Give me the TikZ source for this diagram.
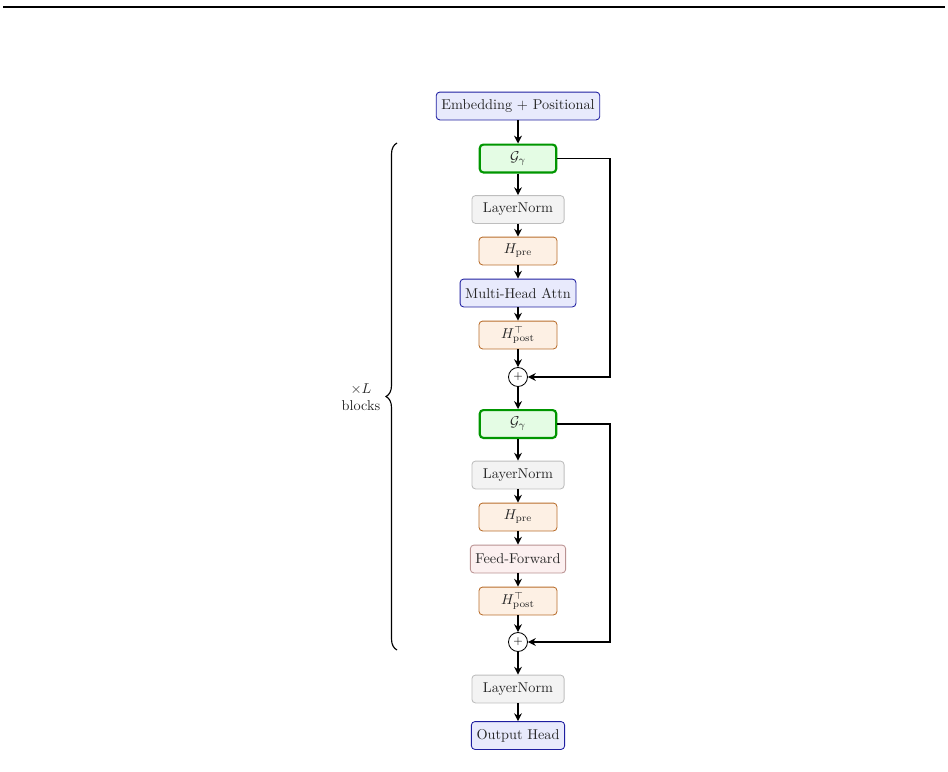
\documentclass[tikz,border=0pt]{standalone}
\usetikzlibrary{arrows.meta,decorations.pathreplacing}
\definecolor{embfill}{RGB}{232,234,252}
\definecolor{embdraw}{RGB}{30,30,160}
\definecolor{gfill}{RGB}{228,252,228}
\definecolor{gdraw}{RGB}{0,150,0}
\definecolor{lnfill}{RGB}{243,243,243}
\definecolor{lndraw}{RGB}{190,190,190}
\definecolor{hfill}{RGB}{253,240,228}
\definecolor{hdraw}{RGB}{185,110,45}
\definecolor{fffill}{RGB}{252,240,240}
\definecolor{ffdraw}{RGB}{185,145,145}
\begin{document}
\begin{tikzpicture}[x=0.7pt,y=-0.7pt,
  base/.style={rectangle, rounded corners=2.5pt, line width=0.6pt, minimum height=19.5pt, inner xsep=3.6pt, inner ysep=2pt, text=black!85},
  embbox/.style={base, fill=embfill, draw=embdraw},
  gbox/.style={base, fill=gfill, draw=gdraw, line width=1.5pt, minimum width=53.5pt, minimum height=19.5pt},
  lnbox/.style={base, fill=lnfill, draw=lndraw, minimum width=64.5pt},
  hbox/.style={base, fill=hfill, draw=hdraw, minimum width=54.6pt},
  ffbox/.style={base, fill=fffill, draw=ffdraw},
  plusc/.style={circle, draw, line width=0.6pt, minimum size=13.3pt, inner sep=0pt, font=\footnotesize},
  arr/.style={-{Stealth[length=5.5pt,width=5.5pt,inset=1.8pt]}, line width=0.9pt},
  loop/.style={-{Stealth[length=5.5pt,width=5.5pt,inset=1.8pt]}, line width=0.9pt}
]
\useasboundingbox (0,0) rectangle (948,772);
\coordinate (tl) at (3,7);
\coordinate (tr) at (945,7);
\draw[line width=0.8pt] (tl) -- (tr);

\node[embbox] (emb) at (518,106) {Embedding + Positional};
\node[gbox] (g1) at (518,158.5) {$\mathcal{G}_\gamma$};
\node[lnbox] (ln1) at (518,209.5) {LayerNorm};
\node[hbox] (hpre1) at (518,251) {$H_{\mathrm{pre}}$};
\node[embbox] (mha) at (518,293) {Multi-Head Attn};
\node[hbox] (hpost1) at (518,335) {$H_{\mathrm{post}}^{\top}$};
\node[plusc] (p1) at (518,377) {$+$};

\node[gbox] (g2) at (518,424) {$\mathcal{G}_\gamma$};
\node[lnbox] (ln2) at (518,475) {LayerNorm};
\node[hbox] (hpre2) at (518,517) {$H_{\mathrm{pre}}$};
\node[ffbox] (ff) at (518,559) {Feed-Forward};
\node[hbox] (hpost2) at (518,601) {$H_{\mathrm{post}}^{\top}$};
\node[plusc] (p2) at (518,642) {$+$};

\node[lnbox] (ln3) at (518,689) {LayerNorm};
\node[embbox] (out) at (518,735.5) {Output Head};

\draw[arr] (emb) -- (g1);
\draw[arr] (g1) -- (ln1);
\draw[arr] (ln1) -- (hpre1);
\draw[arr] (hpre1) -- (mha);
\draw[arr] (mha) -- (hpost1);
\draw[arr] (hpost1) -- (p1);
\draw[arr] (p1) -- (g2);
\draw[arr] (g2) -- (ln2);
\draw[arr] (ln2) -- (hpre2);
\draw[arr] (hpre2) -- (ff);
\draw[arr] (ff) -- (hpost2);
\draw[arr] (hpost2) -- (p2);
\draw[arr] (p2) -- (ln3);
\draw[arr] (ln3) -- (out);

\coordinate (r1) at (610,158.5);
\coordinate (r2) at (610,424);
\draw[loop] (g1.east) -- (r1) |- (p1.east);
\draw[loop] (g2.east) -- (r2) |- (p2.east);

\coordinate (bb) at (397,650);
\coordinate (bt) at (397,143);
\draw[line width=0.8pt, decorate, decoration={brace, amplitude=7.7pt}] (bb) -- (bt);
\node[align=center, text=black!85, inner sep=0pt] (lbl) at (361,397) {$\times L$\\blocks};
\end{tikzpicture}
\end{document}
